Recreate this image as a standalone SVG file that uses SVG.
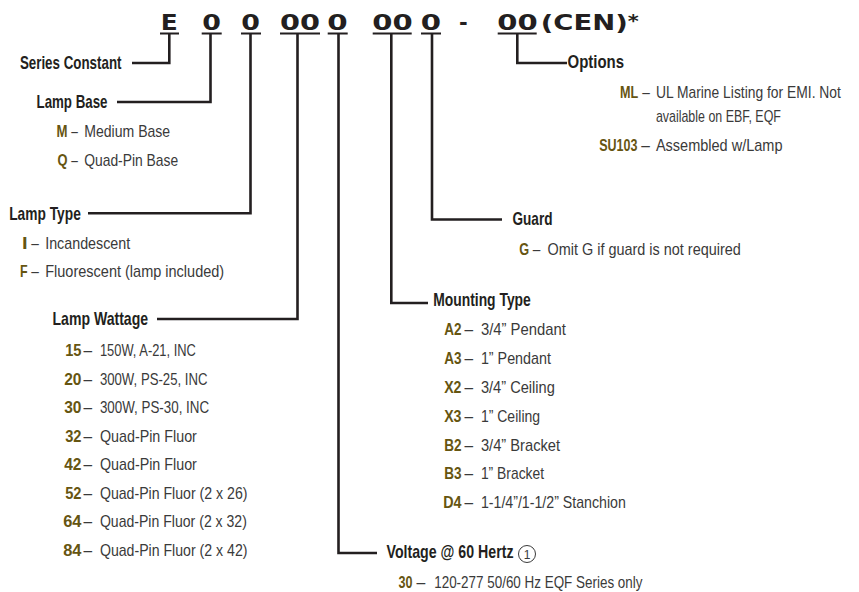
<svg xmlns="http://www.w3.org/2000/svg" width="859" height="592" viewBox="0 0 859 592">
<style>
.h{font-family:"Liberation Sans",Arial,sans-serif;font-weight:bold;font-size:19px;fill:#231f20}
.c{font-family:"Liberation Sans",Arial,sans-serif;font-weight:bold;font-size:17px;fill:#665511}
.t{font-family:"Liberation Sans",Arial,sans-serif;font-size:17px;fill:#3a3a3a}
.k{font-family:"DejaVu Sans","Liberation Sans",sans-serif;font-weight:bold;font-size:21px;fill:#231f20}
.u{stroke:#231f20;stroke-width:1.8;fill:none}
.ln{stroke:#231f20;stroke-width:2.6;fill:none;stroke-linejoin:miter;stroke-linecap:butt}
</style>
<rect width="859" height="592" fill="#ffffff"/>
<g id="code">
<text class="k" x="160.7" y="30" textLength="17" lengthAdjust="spacingAndGlyphs">E</text>
<text class="k" x="202.3" y="30" textLength="18.7" lengthAdjust="spacingAndGlyphs">0</text>
<text class="k" x="241.3" y="30" textLength="18.7" lengthAdjust="spacingAndGlyphs">0</text>
<text class="k" x="280" y="30" textLength="40" lengthAdjust="spacingAndGlyphs">00</text>
<text class="k" x="327.3" y="30" textLength="20.4" lengthAdjust="spacingAndGlyphs">0</text>
<text class="k" x="372.3" y="30" textLength="40.4" lengthAdjust="spacingAndGlyphs">00</text>
<text class="k" x="420.7" y="30" textLength="20.3" lengthAdjust="spacingAndGlyphs">0</text>
<text class="k" x="459" y="30" textLength="8.7" lengthAdjust="spacingAndGlyphs">-</text>
<text class="k" x="497.3" y="30" textLength="40.4" lengthAdjust="spacingAndGlyphs">00</text>
<text class="k" x="540.7" y="30" textLength="87" lengthAdjust="spacingAndGlyphs">(CEN)</text>
<text class="k" x="627.8" y="27" style="font-size:17px" textLength="11" lengthAdjust="spacingAndGlyphs">*</text>
<path class="u" d="M160 33.5H179M201.7 33.5H221.7M241 33.5H261M280 33.5H320M327.7 33.5H347.7M372.7 33.5H411.7M421 33.5H441M497.7 33.5H536.7"/>
</g>
<g id="connectors">
<path class="ln" d="M169.3 33.5V63H132"/>
<path class="ln" d="M210.5 33.5V102H117"/>
<path class="ln" d="M250.5 33.5V213.3H88"/>
<path class="ln" d="M297.5 33.5V319H157"/>
<path class="ln" d="M338.5 33.5V553H377"/>
<path class="ln" d="M391.3 33.5V303H428"/>
<path class="ln" d="M432 33.5V219.5H502"/>
<path class="ln" d="M517.3 33.5V63H567"/>
</g>
<g id="series-constant">
<text class="h" x="19.9" y="69" textLength="101.6" lengthAdjust="spacingAndGlyphs">Series Constant</text>
</g>
<g id="lamp-base">
<text class="h" x="36.5" y="108" textLength="71" lengthAdjust="spacingAndGlyphs">Lamp Base</text>
<text class="c" x="56.5" y="137" textLength="11" lengthAdjust="spacingAndGlyphs">M</text>
<text class="t" x="71.2" y="137" textLength="6.6" lengthAdjust="spacingAndGlyphs">–</text>
<text class="t" x="84.2" y="137" textLength="86" lengthAdjust="spacingAndGlyphs">Medium Base</text>
<text class="c" x="57.5" y="165.5" textLength="10" lengthAdjust="spacingAndGlyphs">Q</text>
<text class="t" x="71.2" y="165.5" textLength="6.6" lengthAdjust="spacingAndGlyphs">–</text>
<text class="t" x="84.2" y="165.5" textLength="94" lengthAdjust="spacingAndGlyphs">Quad-Pin Base</text>
</g>
<g id="lamp-type">
<text class="h" x="9.2" y="220" textLength="71.6" lengthAdjust="spacingAndGlyphs">Lamp Type</text>
<text class="c" x="21.9" y="249" textLength="5.6" lengthAdjust="spacingAndGlyphs">I</text>
<text class="t" x="31.2" y="249" textLength="7.6" lengthAdjust="spacingAndGlyphs">–</text>
<text class="t" x="45.2" y="249" textLength="85" lengthAdjust="spacingAndGlyphs">Incandescent</text>
<text class="c" x="19.9" y="277" textLength="7.6" lengthAdjust="spacingAndGlyphs">F</text>
<text class="t" x="31.2" y="277" textLength="7.6" lengthAdjust="spacingAndGlyphs">–</text>
<text class="t" x="45.2" y="277" textLength="179" lengthAdjust="spacingAndGlyphs">Fluorescent (lamp included)</text>
</g>
<g id="lamp-wattage">
<text class="h" x="52.5" y="325" textLength="95.6" lengthAdjust="spacingAndGlyphs">Lamp Wattage</text>
<text class="c" x="65.2" y="356" textLength="16.3" lengthAdjust="spacingAndGlyphs">15</text>
<text class="t" x="83.6" y="356" textLength="8.6" lengthAdjust="spacingAndGlyphs">–</text>
<text class="t" x="99.9" y="356" textLength="96" lengthAdjust="spacingAndGlyphs">150W, A-21, INC</text>
<text class="c" x="64.2" y="384.5" textLength="17.3" lengthAdjust="spacingAndGlyphs">20</text>
<text class="t" x="83.6" y="384.5" textLength="8.6" lengthAdjust="spacingAndGlyphs">–</text>
<text class="t" x="99.9" y="384.5" textLength="107.6" lengthAdjust="spacingAndGlyphs">300W, PS-25, INC</text>
<text class="c" x="64.2" y="413" textLength="17.3" lengthAdjust="spacingAndGlyphs">30</text>
<text class="t" x="83.6" y="413" textLength="8.6" lengthAdjust="spacingAndGlyphs">–</text>
<text class="t" x="99.9" y="413" textLength="109.2" lengthAdjust="spacingAndGlyphs">300W, PS-30, INC</text>
<text class="c" x="65.2" y="441.5" textLength="16.3" lengthAdjust="spacingAndGlyphs">32</text>
<text class="t" x="83.6" y="441.5" textLength="8.6" lengthAdjust="spacingAndGlyphs">–</text>
<text class="t" x="99.9" y="441.5" textLength="97" lengthAdjust="spacingAndGlyphs">Quad-Pin Fluor</text>
<text class="c" x="64.2" y="470" textLength="17.3" lengthAdjust="spacingAndGlyphs">42</text>
<text class="t" x="83.6" y="470" textLength="8.6" lengthAdjust="spacingAndGlyphs">–</text>
<text class="t" x="99.9" y="470" textLength="97" lengthAdjust="spacingAndGlyphs">Quad-Pin Fluor</text>
<text class="c" x="65.2" y="498.5" textLength="16.3" lengthAdjust="spacingAndGlyphs">52</text>
<text class="t" x="83.6" y="498.5" textLength="8.6" lengthAdjust="spacingAndGlyphs">–</text>
<text class="t" x="99.9" y="498.5" textLength="147.6" lengthAdjust="spacingAndGlyphs">Quad-Pin Fluor (2 x 26)</text>
<text class="c" x="63.2" y="527" textLength="18.3" lengthAdjust="spacingAndGlyphs">64</text>
<text class="t" x="83.6" y="527" textLength="8.6" lengthAdjust="spacingAndGlyphs">–</text>
<text class="t" x="99.9" y="527" textLength="147" lengthAdjust="spacingAndGlyphs">Quad-Pin Fluor (2 x 32)</text>
<text class="c" x="63.2" y="555.5" textLength="18.3" lengthAdjust="spacingAndGlyphs">84</text>
<text class="t" x="83.6" y="555.5" textLength="8.6" lengthAdjust="spacingAndGlyphs">–</text>
<text class="t" x="99.9" y="555.5" textLength="147.6" lengthAdjust="spacingAndGlyphs">Quad-Pin Fluor (2 x 42)</text>
</g>
<g id="mounting-type">
<text class="h" x="433.2" y="306" textLength="97.6" lengthAdjust="spacingAndGlyphs">Mounting Type</text>
<text class="c" x="444.2" y="335" textLength="17.3" lengthAdjust="spacingAndGlyphs">A2</text>
<text class="t" x="464.6" y="335" textLength="8.6" lengthAdjust="spacingAndGlyphs">–</text>
<text class="t" x="480.9" y="335" textLength="85" lengthAdjust="spacingAndGlyphs">3/4” Pendant</text>
<text class="c" x="444.2" y="364" textLength="17.3" lengthAdjust="spacingAndGlyphs">A3</text>
<text class="t" x="464.6" y="364" textLength="8.6" lengthAdjust="spacingAndGlyphs">–</text>
<text class="t" x="480.9" y="364" textLength="70" lengthAdjust="spacingAndGlyphs">1” Pendant</text>
<text class="c" x="444.2" y="393" textLength="17.3" lengthAdjust="spacingAndGlyphs">X2</text>
<text class="t" x="464.6" y="393" textLength="8.6" lengthAdjust="spacingAndGlyphs">–</text>
<text class="t" x="480.9" y="393" textLength="74" lengthAdjust="spacingAndGlyphs">3/4” Ceiling</text>
<text class="c" x="444.2" y="422" textLength="17.3" lengthAdjust="spacingAndGlyphs">X3</text>
<text class="t" x="464.6" y="422" textLength="8.6" lengthAdjust="spacingAndGlyphs">–</text>
<text class="t" x="480.9" y="422" textLength="59.2" lengthAdjust="spacingAndGlyphs">1” Ceiling</text>
<text class="c" x="444.2" y="450.5" textLength="17.3" lengthAdjust="spacingAndGlyphs">B2</text>
<text class="t" x="464.6" y="450.5" textLength="8.6" lengthAdjust="spacingAndGlyphs">–</text>
<text class="t" x="480.9" y="450.5" textLength="79.2" lengthAdjust="spacingAndGlyphs">3/4” Bracket</text>
<text class="c" x="444.2" y="479" textLength="17.3" lengthAdjust="spacingAndGlyphs">B3</text>
<text class="t" x="464.6" y="479" textLength="8.6" lengthAdjust="spacingAndGlyphs">–</text>
<text class="t" x="480.9" y="479" textLength="63.2" lengthAdjust="spacingAndGlyphs">1” Bracket</text>
<text class="c" x="443.2" y="508" textLength="18.3" lengthAdjust="spacingAndGlyphs">D4</text>
<text class="t" x="464.6" y="508" textLength="8.6" lengthAdjust="spacingAndGlyphs">–</text>
<text class="t" x="480.9" y="508" textLength="145" lengthAdjust="spacingAndGlyphs">1-1/4”/1-1/2” Stanchion</text>
</g>
<g id="guard">
<text class="h" x="512.5" y="225" textLength="40" lengthAdjust="spacingAndGlyphs">Guard</text>
<text class="c" x="519.2" y="255" textLength="9.9" lengthAdjust="spacingAndGlyphs">G</text>
<text class="t" x="532.8" y="255" textLength="7.6" lengthAdjust="spacingAndGlyphs">–</text>
<text class="t" x="547.5" y="255" textLength="193.3" lengthAdjust="spacingAndGlyphs">Omit G if guard is not required</text>
</g>
<g id="voltage">
<text class="h" x="386.5" y="557.5" textLength="127" lengthAdjust="spacingAndGlyphs">Voltage @ 60 Hertz</text>
<circle cx="527" cy="554" r="8.5" fill="none" stroke="#3a3a3a" stroke-width="1"/>
<text x="527" y="558.5" text-anchor="middle" style="font-family:'Liberation Sans',Arial,sans-serif;font-size:12px;fill:#3a3a3a">1</text>
<text class="c" x="398.5" y="588.3" textLength="14" lengthAdjust="spacingAndGlyphs">30</text>
<text class="t" x="416.6" y="588.3" textLength="8.8" lengthAdjust="spacingAndGlyphs">–</text>
<text class="t" x="434.2" y="588.3" textLength="208.3" lengthAdjust="spacingAndGlyphs">120-277 50/60 Hz EQF Series only</text>
</g>
<g id="options">
<text class="h" x="567.5" y="68" textLength="56.6" lengthAdjust="spacingAndGlyphs">Options</text>
<text class="c" x="619.9" y="98.3" textLength="18.2" lengthAdjust="spacingAndGlyphs">ML</text>
<text class="t" x="642.2" y="98.3" textLength="7.6" lengthAdjust="spacingAndGlyphs">–</text>
<text class="t" x="655.9" y="98.3" textLength="185" lengthAdjust="spacingAndGlyphs">UL Marine Listing for EMI. Not</text>
<text class="t" x="655.9" y="121.7" textLength="125" lengthAdjust="spacingAndGlyphs">available on EBF, EQF</text>
<text class="c" x="599.2" y="151" textLength="38.3" lengthAdjust="spacingAndGlyphs">SU103</text>
<text class="t" x="641.2" y="151" textLength="8.6" lengthAdjust="spacingAndGlyphs">–</text>
<text class="t" x="655.9" y="151" textLength="126.6" lengthAdjust="spacingAndGlyphs">Assembled w/Lamp</text>
</g>
</svg>
